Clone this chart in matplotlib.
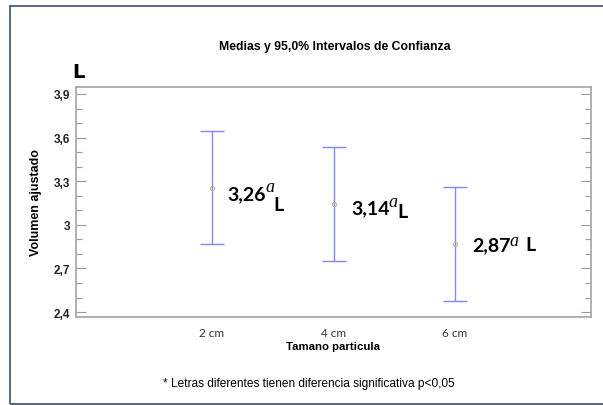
import matplotlib
matplotlib.use('Agg')
import matplotlib.pyplot as plt
from matplotlib.patches import Rectangle
from matplotlib.ticker import MultipleLocator, FixedLocator

plt.rcParams['font.family'] = ['Liberation Sans', 'DejaVu Sans']

# %% data
categorias = ['2 cm', '4 cm', '6 cm']
medias = [3.255, 3.143, 2.868]
limite_inf = [2.868, 2.751, 2.475]
limite_sup = [3.645, 3.535, 3.262]
etiquetas = ['3,26', '3,14', '2,87']
letras = ['a', 'a', 'a']
yticks = [2.4, 2.7, 3.0, 3.3, 3.6, 3.9]
ytick_labels = ['2,4', '2,7', '3', '3,3', '3,6', '3,9']

# label offsets in pixels (number, letter, unit) relative to each mean
off_num = [(15, -6), (18, -3.5), (17, -0.5)]
off_let = [(53, -3), (55, -2), (55, -1)]
off_uni = [(61, -17), (64, -7.5), (70, -0.5)]

# %%
fig = plt.figure(figsize=(6.03, 4.06), dpi=100)
ax = fig.add_axes([76 / 603, 1 - 318 / 406, (591 - 76) / 603, (318 - 88) / 406])

x = list(range(1, len(categorias) + 1))
err_lo = [m - lo for m, lo in zip(medias, limite_inf)]
err_hi = [hi - m for m, hi in zip(medias, limite_sup)]
ax.errorbar(x, medias, yerr=[err_lo, err_hi], fmt='none', ecolor='#8585f5',
            elinewidth=1.0, capsize=8.7, capthick=1.0)
ax.plot(x, medias, 'o', ms=3, mfc='none', mec='#b8b890', mew=0.8)

for i in range(len(x)):
    ax.annotate(etiquetas[i], xy=(x[i], medias[i]), xytext=off_num[i], textcoords='offset pixels',
                ha='left', va='center', fontsize=14, fontweight='bold', family=['Lato', 'DejaVu Sans'])
    ax.annotate(letras[i], xy=(x[i], medias[i]), xytext=off_let[i], textcoords='offset pixels',
                ha='left', va='baseline', fontsize=13, style='italic', family=['Liberation Serif'])
    ax.annotate('L', xy=(x[i], medias[i]), xytext=off_uni[i], textcoords='offset pixels',
                ha='left', va='center', fontsize=14, fontweight='bold', family=['Lato', 'DejaVu Sans'])

ax.set_xlim(-0.12, 4.12)
ax.set_ylim(2.366, 3.948)
ax.set_xticks(x)
ax.set_xticklabels(categorias, family=['Lato', 'DejaVu Sans'], fontsize=8.5, color='#333333')
ax.tick_params(axis='x', length=0, pad=7)

ax.yaxis.set_major_locator(FixedLocator(yticks))
ax.set_yticklabels(ytick_labels, fontsize=8.5, fontweight='bold', color='#222222')
ax.yaxis.set_minor_locator(MultipleLocator(0.1))
ax.tick_params(axis='y', which='both', direction='in', left=True, right=True, color='#999999', pad=4)
ax.tick_params(axis='y', which='major', length=7, width=0.8)
ax.tick_params(axis='y', which='minor', length=4, width=0.8)
for s in ax.spines.values():
    s.set_color('#aaaaaa')
    s.set_linewidth(1.3)

ax.set_xlabel('Tamano particula', fontsize=8.2, fontweight='bold', labelpad=2)
ax.set_ylabel('Volumen ajustado', fontsize=9, fontweight='bold', labelpad=9)

fig.text(335 / 603, 1 - 47 / 406, 'Medias y 95,0% Intervalos de Confianza', ha='center', va='center',
         fontsize=8.8, fontweight='bold')
fig.text(78 / 603, 1 - 72 / 406, 'L', ha='center', va='center', fontsize=14, fontweight='bold',
         family=['DejaVu Sans'])
fig.text(309 / 603, 1 - 384 / 406, '* Letras diferentes tienen diferencia significativa p<0,05',
         ha='center', va='center', fontsize=8.6)

fig.patches.append(Rectangle((10 / 603, 1 / 406), 1.0, 1 - 8 / 406, transform=fig.transFigure,
                             fill=False, edgecolor='#4b5a78', linewidth=1.3, clip_on=False))

fig.savefig('out.png', dpi=100)
